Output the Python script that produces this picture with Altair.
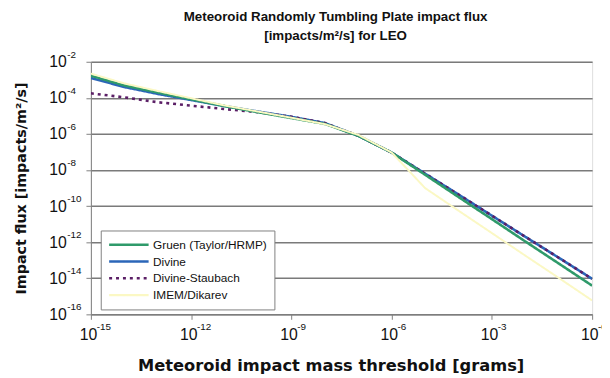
import altair as alt
import pandas as pd

# ---- data (mass in grams, flux in impacts/m^2/s) ----
mass = [1e-15, 1e-14, 1e-13, 1e-12, 1e-11, 1e-10, 1e-9, 1e-8, 1e-7,
        1e-6, 1e-5, 1e-4, 1e-3, 1e-2, 1e-1, 1.0]

gruen_flux = [1.7e-3, 4.9e-4, 2.0e-4, 8.3e-5, 3.5e-5, 1.6e-5, 7.6e-6, 3.6e-6, 7.9e-7,
              9.3e-8, 5.5e-9, 3.2e-10, 1.9e-11, 1.1e-12, 6.6e-14, 3.9e-15]

divine_flux = [1.26e-3, 4.0e-4, 1.66e-4, 7.6e-5, 3.5e-5, 1.74e-5, 8.9e-6, 4.0e-6, 7.9e-7,
               9.3e-8, 6.3e-9, 4.4e-10, 2.95e-11, 2.0e-12, 1.38e-13, 9.3e-15]

staubach_flux = [1.78e-4, 1.07e-4, 5.75e-5, 3.7e-5, 2.4e-5, 1.6e-5, 8.9e-6, 4.0e-6, 7.9e-7,
                 9.3e-8, 6.3e-9, 4.4e-10, 2.95e-11, 2.0e-12, 1.38e-13, 9.3e-15]

imem_mass = [1e-15, 1e-14, 1e-13, 1e-12, 1e-11, 1e-10, 1e-9, 1e-8, 1e-7,
             1e-6, 3.16e-6, 1e-5, 1e-4, 1e-3, 1e-2, 1e-1, 1.0]
imem_flux = [2.2e-3, 6.3e-4, 2.4e-4, 9.5e-5, 3.8e-5, 1.74e-5, 7.9e-6, 3.5e-6, 8.9e-7,
             9.3e-8, 9.8e-9, 1.0e-9, 5.6e-11, 3.2e-12, 1.8e-13, 1.05e-14, 5.9e-16]

series_names = ["Gruen (Taylor/HRMP)", "Divine", "Divine-Staubach", "IMEM/Dikarev"]
series_colors = ["#2f9a6a", "#2b66b8", "#5b1f66", "#fbf8c4"]
series_dash = [[1, 0], [1, 0], [3, 4], [1, 0]]

# tick values and their exponent labels (base "10" + superscript exponent)
x_ticks = [1e-15, 1e-12, 1e-9, 1e-6, 1e-3, 1.0]
x_exponents = ["-15", "-12", "-9", "-6", "-3", "-0"]
y_ticks = [1e-2, 1e-4, 1e-6, 1e-8, 1e-10, 1e-12, 1e-14, 1e-16]
y_exponents = ["-2", "-4", "-6", "-8", "-10", "-12", "-14", "-16"]

rows = []
for m, f in zip(mass, gruen_flux):
    rows.append({"series": series_names[0], "mass": m, "flux": f})
for m, f in zip(mass, divine_flux):
    rows.append({"series": series_names[1], "mass": m, "flux": f})
for m, f in zip(mass, staubach_flux):
    rows.append({"series": series_names[2], "mass": m, "flux": f})
for m, f in zip(imem_mass, imem_flux):
    rows.append({"series": series_names[3], "mass": m, "flux": f})
df = pd.DataFrame(rows)

x_exp_df = pd.DataFrame({"mass": x_ticks, "flux": [1e-16] * len(x_ticks), "exp": x_exponents})
y_exp_df = pd.DataFrame({"mass": [1e-15] * len(y_ticks), "flux": y_ticks, "exp": y_exponents})

FONT = "Liberation Sans"
TFONT = "DejaVu Sans"

x_scale = alt.Scale(type="log", domain=[1e-15, 1.0], nice=False)
y_scale = alt.Scale(type="log", domain=[1e-16, 1e-2], nice=False)

x_enc = alt.X("mass:Q", scale=x_scale,
              axis=alt.Axis(values=x_ticks, labelExpr="'10'", grid=False,
                            title="Meteoroid impact mass threshold [grams]",
                            labelFontSize=16, labelFont=FONT, labelColor="#111",
                            labelAlign="right", labelOffset=6, labelPadding=7,
                            titleFontSize=16.5, titleFont=TFONT, titleFontWeight="bold",
                            titleColor="#111", titlePadding=16, titleX=243,
                            tickSize=5, tickColor="#808080", domainColor="#808080",
                            labelFlush=False))
y_enc = alt.Y("flux:Q", scale=y_scale,
              axis=alt.Axis(values=y_ticks, labelExpr="'10'", grid=True,
                            gridColor="#7a7a7a", gridWidth=1.5,
                            title="Impact flux  [impacts/m\u00b2/s]",
                            labelFontSize=16, labelFont=FONT, labelColor="#111",
                            labelAlign="right", labelPadding=20,
                            titleFontSize=14.5, titleFont=TFONT, titleFontWeight="bold",
                            titleColor="#111", titlePadding=20,
                            tickSize=5, tickColor="#808080", domainColor="#808080"))

legend = alt.Legend(title=None, orient="none", legendX=10, legendY=171,
                    fillColor="white", strokeColor="#808080", padding=7,
                    labelFont=FONT, labelFontSize=12, labelColor="#111",
                    symbolType="stroke", symbolSize=1600, symbolStrokeWidth=2.5,
                    clipHeight=15, labelOffset=3)

color_enc = alt.Color("series:N", scale=alt.Scale(domain=series_names, range=series_colors),
                      legend=legend)
dash_enc = alt.StrokeDash("series:N", scale=alt.Scale(domain=series_names, range=series_dash),
                          legend=legend)


def layer(name, width):
    return (alt.Chart(df)
            .transform_filter(alt.datum.series == name)
            .mark_line(strokeWidth=width, clip=True)
            .encode(x=x_enc, y=y_enc, color=color_enc, strokeDash=dash_enc,
                    order="mass:Q"))


x_exp = alt.Chart(x_exp_df).mark_text(
    align="left", baseline="top", dx=6, dy=8, fontSize=10, font=FONT, color="#111"
).encode(x=alt.X("mass:Q", scale=x_scale), y=alt.Y("flux:Q", scale=y_scale), text="exp:N")

y_exp = alt.Chart(y_exp_df).mark_text(
    align="left", baseline="middle", dx=-24, dy=-7, fontSize=10, font=FONT, color="#111"
).encode(x=alt.X("mass:Q", scale=x_scale), y=alt.Y("flux:Q", scale=y_scale), text="exp:N")

chart = alt.layer(
    layer("Divine", 2.6),
    layer("Divine-Staubach", 2.6),
    layer("Gruen (Taylor/HRMP)", 2.6),
    layer("IMEM/Dikarev", 2.0),
    x_exp,
    y_exp,
).properties(
    width=508, height=256,
    title=alt.TitleParams(text=["Meteoroid Randomly Tumbling Plate impact flux",
                                "[impacts/m\u00b2/s] for LEO"],
                          font=FONT, fontSize=13.5, fontWeight="bold", color="#111",
                          anchor="middle", frame="group", dx=-6, offset=8, lineHeight=19),
    autosize=alt.AutoSizeParams(type="none"),
    padding={"left": 84, "top": 52, "right": 10, "bottom": 62},
).configure_view(
    fill="#c0c0c0", stroke="#a0a0a0", strokeWidth=1.5
).configure(background="white")

chart.save("out.html", embed_options={"renderer": "svg", "actions": False})
